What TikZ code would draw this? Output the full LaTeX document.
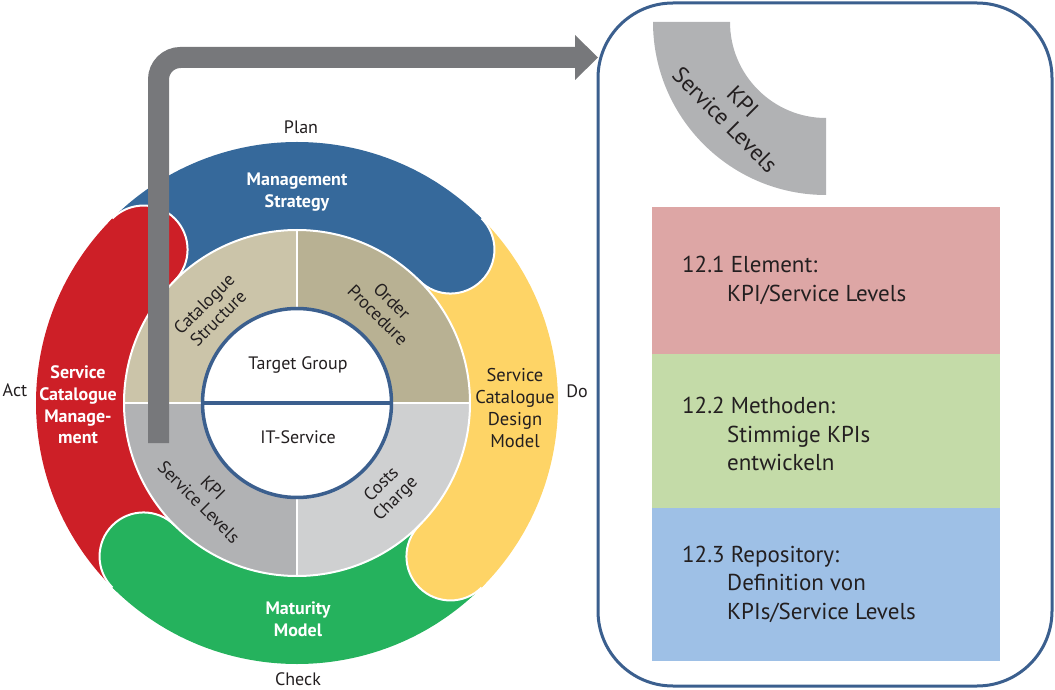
\documentclass[tikz,border=0pt]{standalone}
\usepackage{fontspec}
\setmainfont{PT Sans}
\definecolor{segblue}{HTML}{36699B}
\definecolor{segred}{HTML}{CD1F27}
\definecolor{seggreen}{HTML}{25B25D}
\definecolor{segyellow}{HTML}{FED466}
\definecolor{qtl}{HTML}{CBC4A9}
\definecolor{qtr}{HTML}{B8B193}
\definecolor{qbl}{HTML}{B1B2B4}
\definecolor{qbr}{HTML}{CFD0D1}
\definecolor{ringblue}{HTML}{3B5F8E}
\definecolor{arrowgray}{HTML}{77787B}
\definecolor{boxred}{HTML}{DDA6A5}
\definecolor{boxgreen}{HTML}{C4DBA8}
\definecolor{boxblue}{HTML}{9EC0E6}
\definecolor{txt}{HTML}{231F20}
\begin{document}
\begin{tikzpicture}[x=1pt,y=1pt,
  seglabel/.style={text=white, font=\bfseries\fontsize{18}{21.7}\selectfont, align=center, inner sep=0pt},
  darklabel/.style={text=txt, font=\fontsize{18.5}{21.7}\selectfont, align=center, inner sep=0pt},
  ringlabel/.style={text=txt, font=\fontsize{18}{20}\selectfont, align=center, inner sep=0pt},
  pdca/.style={text=txt, font=\fontsize{18}{20}\selectfont, anchor=base, inner sep=0pt},
  boxtext/.style={text=txt, font=\fontsize{23}{29}\selectfont, anchor=base west, inner sep=0pt},
  capline/.style={white, line width=2pt},
  sepline/.style={white, line width=2pt}]
\useasboundingbox (0,0) rectangle (1055,689);
\begin{scope}[shift={(297,286)}]
  % outer ring sectors
  \foreach \a/\c in {45/segblue,135/segred,225/seggreen,315/segyellow}{
    \fill[\c] (\a:261pt) arc[start angle=\a, end angle=\a+90, radius=261pt]
      -- (\a+90:173pt) arc[start angle=\a+90, end angle=\a, radius=173pt] -- cycle;
  }
  % rounded heads of the segments
  \foreach \a/\c in {45/segblue,135/segred,225/seggreen,315/segyellow}{
    \fill[\c] (\a:217pt) circle[radius=44pt];
    \draw[capline] (\a:217pt) ++(\a-180:44pt) arc[start angle=\a-180, end angle=\a, radius=44pt];
  }
  % middle ring
  \fill[qtr] (0,0) -- (0:173pt) arc[start angle=0, end angle=90, radius=173pt] -- cycle;
  \fill[qtl] (0,0) -- (90:173pt) arc[start angle=90, end angle=180, radius=173pt] -- cycle;
  \fill[qbl] (0,0) -- (180:173pt) arc[start angle=180, end angle=270, radius=173pt] -- cycle;
  \fill[qbr] (0,0) -- (270:173pt) arc[start angle=270, end angle=360, radius=173pt] -- cycle;
  \draw[sepline] (0,0) circle[radius=173pt];
  \draw[sepline] (-173,0) -- (173,0) (0,-173) -- (0,173);
  \draw[ringblue, line width=3.5pt, fill=white] (0,0) circle[radius=94.5pt];
  \draw[ringblue, line width=3.5pt] (-94.5,0) -- (94.5,0);
\end{scope}
% outer ring labels
\node[seglabel] (ms) at (297,497) {Management\\Strategy};
\node[seglabel] (scm) at (78,284) {Service\\Catalogue\\Manage-\\ment};
\node[seglabel] (mm) at (298,70) {Maturity\\Model};
\node[darklabel] (scd) at (515,281) {Service\\Catalogue\\Design\\Model};
% middle ring labels
\node[ringlabel, rotate=45] (cs) at (211,378) {Catalogue\\Structure};
\node[ringlabel, rotate=-45] (op) at (385,381) {Order\\Procedure};
\node[ringlabel, rotate=-45] (kpi) at (206,194) {KPI\\Service Levels};
\node[ringlabel, rotate=45] (cc) at (389,197) {Costs\\Charge};
% inner labels
\node[pdca] (tg) at (298,319) {Target Group};
\node[pdca] (its) at (298,246) {IT-Service};
% PDCA labels
\node[pdca] (plan) at (301,555) {Plan};
\node[pdca] (check) at (298,4) {Check};
\node[pdca] (act) at (15,292) {Act};
\node[pdca] (do) at (577,291) {Do};
% arrow
\draw[arrowgray, line width=21pt, rounded corners=22pt] (158.5,246) -- (158.5,631.5) -- (577,631.5);
\fill[arrowgray] (575,654) -- (598,631.5) -- (575,609) -- cycle;
% right panel
\draw[ringblue, line width=3pt, rounded corners=75pt] (598,3) rectangle (1052,686);
\fill[qbl] (653,667) arc[start angle=180, end angle=270, radius=173pt] -- (826,571)
  arc[start angle=270, end angle=180, radius=96pt] -- cycle;
\node[ringlabel, rotate=-45, font=\fontsize{23}{25}\selectfont] (kpi2) at (734,578) {KPI\\Service Levels};
\fill[boxred] (652,335) rectangle (1000,482);
\fill[boxgreen] (652,181) rectangle (1000,335);
\fill[boxblue] (652,28) rectangle (1000,181);
\node[boxtext] (b1a) at (682,416) {12.1 Element:};
\node[boxtext] (b1b) at (727,387) {KPI/Service Levels};
\node[boxtext] (b2a) at (682,276) {12.2 Methoden:};
\node[boxtext] (b2b) at (727,247) {Stimmige KPIs};
\node[boxtext] (b2c) at (727,219) {entwickeln};
\node[boxtext] (b3a) at (682,127) {12.3 Repository:};
\node[boxtext] (b3b) at (727,99) {Definition von};
\node[boxtext] (b3c) at (727,70) {KPIs/Service Levels};
\end{tikzpicture}
\end{document}
